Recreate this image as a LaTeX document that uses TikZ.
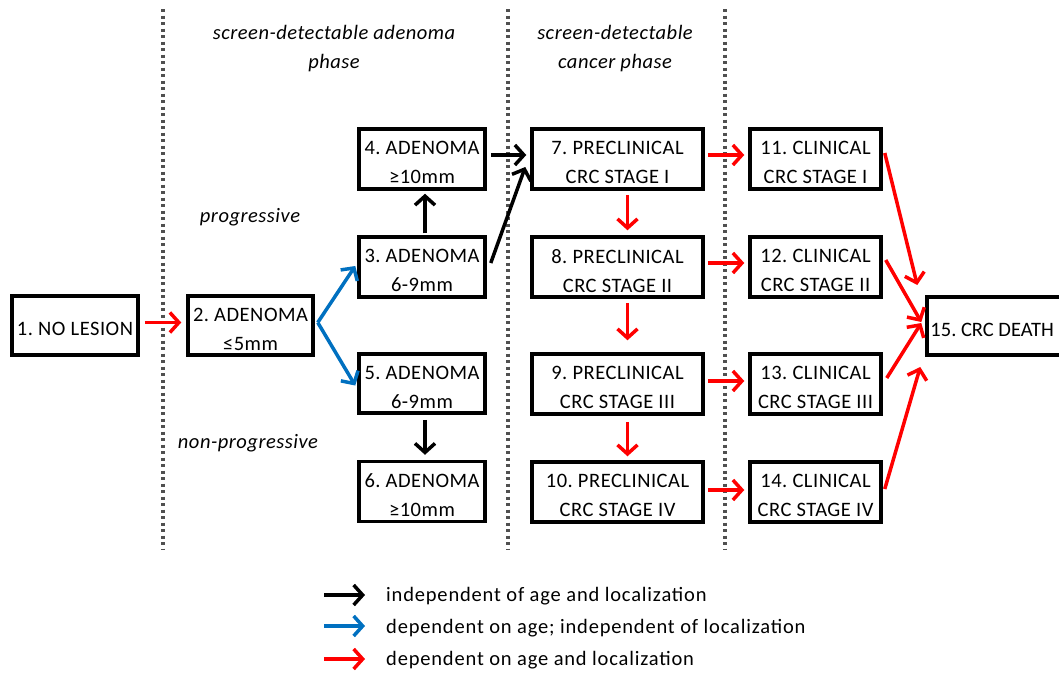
\documentclass[tikz,border=0pt]{standalone}
\usepackage{fontspec}
\setmainfont{Carlito}[LetterSpace=2.5]
\usetikzlibrary{arrows.meta,calc}
\definecolor{myblue}{HTML}{0070C0}
\definecolor{myred}{HTML}{FF0000}
\definecolor{dotgray}{HTML}{505050}
\tikzset{
  box/.style={draw=black, line width=3.5pt, inner sep=0pt},
  bt/.style={align=center, inner sep=0pt, yshift=-3.5pt,
    font=\fontsize{20.5}{29}\selectfont, text depth=0pt},
  conn/.style={line width=3.5pt, -{Straight Barb[length=9pt,width=20pt]}},
  blk/.style={conn, draw=black},
  blu/.style={conn, draw=myblue},
  rd/.style={conn, draw=myred},
  sep/.style={draw=dotgray, line width=3.5pt, dash pattern=on 3.3pt off 3.2pt},
  lab/.style={font=\fontsize{20.5}{29}\selectfont\itshape, align=center},
  leg/.style={font=\fontsize{20.5}{24}\selectfont\addfontfeature{LetterSpace=4}, anchor=west, inner sep=0pt},
}
\begin{document}
\frenchspacing
\begin{tikzpicture}[x=1pt,y=-1pt]
\useasboundingbox (0,0) rectangle (1059,675);
\clip (0,0) rectangle (1059,675);
% separators
\coordinate (s1t) at (163,9); \coordinate (s1b) at (163,550);
\coordinate (s2t) at (508,9); \coordinate (s2b) at (508,550);
\coordinate (s3t) at (725,9); \coordinate (s3b) at (725,550);
\draw[sep] (s1t) -- (s1b);
\draw[sep] (s2t) -- (s2b);
\draw[sep] (s3t) -- (s3b);
% phase labels
\node[lab] (ph1) at (334,49) {screen-detectable adenoma\\phase};
\node[lab] (ph2) at (615,49) {screen-detectable\\cancer phase};
\node[lab] (prog) at (250,217) {progressive};
\node[lab] (nprog) at (248,443) {non-progressive};
% boxes
\node[box, minimum width=126pt, minimum height=59pt, label={[bt]center:{1. NO LESION}}] (n1) at (75,325.5) {};
\node[box, minimum width=125pt, minimum height=59pt, label={[bt]center:{2. ADENOMA\\≤5mm}}] (n2) at (250.5,325.5) {};
\node[box, minimum width=126pt, minimum height=60pt, label={[bt]center:{4. ADENOMA\\≥10mm}}] (n4) at (422,159) {};
\node[box, minimum width=126pt, minimum height=60pt, label={[bt]center:{3. ADENOMA\\6-9mm}}] (n3) at (422,267) {};
\node[box, minimum width=126pt, minimum height=59pt, label={[bt]center:{5. ADENOMA\\6-9mm}}] (n5) at (422,383.5) {};
\node[box, minimum width=126pt, minimum height=60pt, label={[bt]center:{6. ADENOMA\\≥10mm}}] (n6) at (422,491.5) {};
\node[box, minimum width=171pt, minimum height=60pt, label={[bt]center:{7. PRECLINICAL\\CRC STAGE I}}] (n7) at (617.5,159) {};
\node[box, minimum width=171pt, minimum height=60pt, label={[bt]center:{8. PRECLINICAL\\CRC STAGE II}}] (n8) at (617.5,267) {};
\node[box, minimum width=171pt, minimum height=60pt, label={[bt]center:{9. PRECLINICAL\\CRC STAGE III}}] (n9) at (617.5,384) {};
\node[box, minimum width=171pt, minimum height=60pt, label={[bt]center:{10. PRECLINICAL\\CRC STAGE IV}}] (n10) at (617.5,492) {};
\node[box, minimum width=131pt, minimum height=60pt, label={[bt]center:{11. CLINICAL\\CRC STAGE I}}] (n11) at (815.5,159) {};
\node[box, minimum width=131pt, minimum height=60pt, label={[bt]center:{12. CLINICAL\\CRC STAGE II}}] (n12) at (815.5,267) {};
\node[box, minimum width=131pt, minimum height=60pt, label={[bt]center:{13. CLINICAL\\CRC STAGE III}}] (n13) at (815.5,384) {};
\node[box, minimum width=131pt, minimum height=60pt, label={[bt]center:{14. CLINICAL\\CRC STAGE IV}}] (n14) at (815.5,492) {};
\node[box, minimum width=145pt, minimum height=58pt,
  label={[bt, anchor=west, xshift=5pt, font=\fontsize{20.5}{29}\selectfont\addfontfeature{LetterSpace=0}]west:{15. CRC DEATH}}] (n15) at (999.5,326) {};
% connectors
\draw[rd] ($(n1.east)+(5,-3)$) -- ($(n2.west)+(-5,-3)$);
\draw[blu] ($(n2.east)+(3,-3)$) -- ($(n3.west)+(-2,-1)$);
\draw[blu] ($(n2.east)+(3,-3)$) -- ($(n5.west)+(-2,2)$);
\draw[blk] ($(n3.north)+(3,-2)$) -- ($(n4.south)+(3,3)$);
\draw[blk] ($(n3.east)+(4,-4)$) -- ($(n7.west)+(-5,8)$);
\draw[blk] ($(n4.east)+(4,-4)$) -- ($(n7.west)+(-4,-4)$);
\draw[blk] ($(n5.south)+(3,5)$) -- ($(n6.north)+(3,-5)$);
\draw[rd] ($(n7.south)+(10,4)$) -- ($(n8.north)+(10,-5)$);
\draw[rd] ($(n8.south)+(10,4)$) -- ($(n9.north)+(10,-12)$);
\draw[rd] ($(n9.south)+(10,6)$) -- ($(n10.north)+(10,-4)$);
\draw[rd] ($(n7.east)+(3,-4)$) -- ($(n11.west)+(-4,-4)$);
\draw[rd] ($(n8.east)+(3,-4)$) -- ($(n12.west)+(-4,-4)$);
\draw[rd] ($(n9.east)+(3,-3)$) -- ($(n13.west)+(-4,-3)$);
\draw[rd] ($(n10.east)+(3,-2)$) -- ($(n14.west)+(-4,-2)$);
\draw[rd] ($(n11.east)+(2,-6)$) -- ($(n15.west)+(-8,-41)$);
\draw[rd] ($(n12.east)+(3,-7)$) -- ($(n15.west)+(-4,-4)$);
\draw[rd] ($(n13.east)+(4,-6)$) -- ($(n15.west)+(-4,-3)$);
\draw[rd] ($(n14.east)+(2,-3)$) -- ($(n15.west)+(-5,41)$);
% legend
\coordinate (la) at (324,595); \coordinate (lae) at (365,595);
\coordinate (lb) at (324,626); \coordinate (lbe) at (365,626);
\coordinate (lc) at (324,659); \coordinate (lce) at (365,659);
\draw[blk] (la) -- (lae);
\draw[blu] (lb) -- (lbe);
\draw[rd] (lc) -- (lce);
\node[leg] (t1) at (386,596) {independent of age and localization};
\node[leg] (t2) at (386,628) {dependent on age; independent of localization};
\node[leg] (t3) at (386,660) {dependent on age and localization};
\end{tikzpicture}
\end{document}
